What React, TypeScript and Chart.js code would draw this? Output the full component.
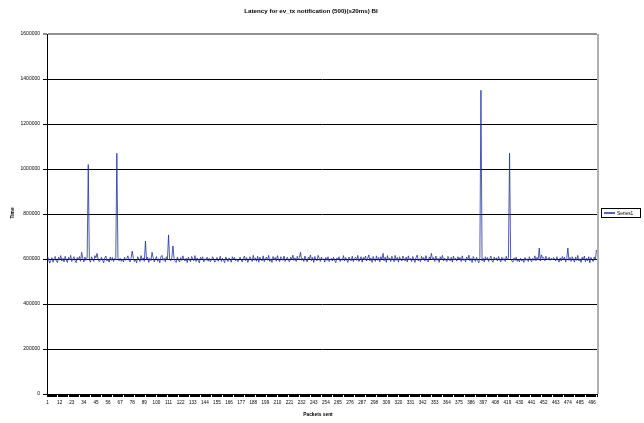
import React, { useEffect, useRef } from 'react';
import { Chart, registerables } from 'chart.js';

Chart.register(...registerables);

const TITLE = 'Latency for ev_tx notification (500)(s20ms) BI';
const X_TITLE = 'Packets sent';
const Y_TITLE = 'Time';
const SERIES_NAME = 'Series1';

const categories: string[] = Array.from({ length: 500 }, (_, i) => String(i + 1));
const xLabelEvery = 11;

const yMin = 0;
const yMax = 1600000;
const yStep = 200000;

const series1: number[] = [
  612000, 596000, 582000, 594000, 606000, 586000, 601000, 611000, 590000, 584000, 608000, 597000, 615000, 591000, 603000, 587000, 612000, 595000, 585000, 607000, 596000, 616000, 589000, 601000, 610000,
  593000, 584000, 607000, 596000, 611000, 590000, 630000, 603000, 587000, 609000, 594000, 606000, 1020000, 596000, 586000, 610000, 598000, 589000, 615000, 605000, 625000, 599000, 588000, 596000, 608000,
  593000, 583000, 605000, 613000, 591000, 600000, 586000, 609000, 594000, 607000, 589000, 602000, 596000, 1070000, 605000, 592000, 603000, 590000, 600000, 587000, 608000, 594000, 601000, 614000, 596000,
  587000, 606000, 635000, 603000, 589000, 597000, 583000, 610000, 600000, 588000, 615000, 594000, 605000, 590000, 680000, 596000, 608000, 585000, 603000, 593000, 630000, 606000, 587000, 598000, 611000,
  590000, 601000, 583000, 609000, 616000, 594000, 603000, 588000, 610000, 597000, 707000, 596000, 592000, 606000, 658000, 603000, 589000, 585000, 609000, 596000, 587000, 606000, 594000, 614000, 600000,
  591000, 603000, 584000, 608000, 596000, 588000, 611000, 600000, 592000, 615000, 589000, 605000, 594000, 583000, 607000, 598000, 610000, 587000, 601000, 594000, 608000, 590000, 603000, 588000, 596000,
  610000, 600000, 586000, 594000, 607000, 590000, 598000, 612000, 589000, 603000, 594000, 584000, 609000, 600000, 589000, 605000, 596000, 586000, 610000, 598000, 607000, 592000, 601000, 588000, 595000,
  608000, 596000, 587000, 603000, 613000, 592000, 606000, 585000, 597000, 610000, 600000, 589000, 616000, 594000, 605000, 590000, 612000, 586000, 608000, 598000, 592000, 614000, 588000, 603000, 609000,
  594000, 616000, 589000, 601000, 585000, 611000, 596000, 607000, 590000, 615000, 598000, 588000, 610000, 603000, 594000, 613000, 589000, 601000, 608000, 592000, 587000, 609000, 597000, 617000, 594000,
  605000, 589000, 612000, 596000, 607000, 630000, 594000, 603000, 589000, 613000, 596000, 587000, 608000, 600000, 618000, 592000, 607000, 585000, 611000, 598000, 592000, 616000, 603000, 589000, 609000,
  596000, 601000, 586000, 607000, 594000, 610000, 588000, 598000, 603000, 591000, 608000, 594000, 584000, 605000, 596000, 610000, 589000, 601000, 594000, 615000, 591000, 607000, 596000, 585000, 609000,
  600000, 592000, 612000, 588000, 603000, 608000, 594000, 616000, 589000, 598000, 610000, 586000, 607000, 596000, 613000, 591000, 603000, 618000, 592000, 605000, 585000, 611000, 598000, 589000, 614000,
  594000, 607000, 587000, 610000, 598000, 625000, 592000, 608000, 585000, 615000, 596000, 605000, 589000, 612000, 600000, 588000, 616000, 594000, 607000, 586000, 610000, 598000, 591000, 613000, 603000,
  592000, 608000, 587000, 614000, 596000, 603000, 589000, 611000, 598000, 585000, 607000, 617000, 592000, 601000, 588000, 612000, 596000, 607000, 591000, 615000, 594000, 587000, 609000, 600000, 625000,
  596000, 607000, 589000, 613000, 594000, 603000, 585000, 610000, 598000, 616000, 591000, 605000, 596000, 588000, 611000, 600000, 592000, 608000, 586000, 613000, 596000, 603000, 591000, 610000, 598000,
  607000, 589000, 614000, 594000, 601000, 587000, 609000, 596000, 617000, 592000, 603000, 585000, 611000, 598000, 589000, 608000, 594000, 583000, 607000, 1350000, 592000, 603000, 587000, 610000, 596000,
  607000, 589000, 601000, 613000, 592000, 586000, 609000, 596000, 605000, 591000, 611000, 598000, 587000, 608000, 594000, 603000, 589000, 612000, 596000, 607000, 1070000, 601000, 592000, 586000, 605000,
  594000, 608000, 589000, 598000, 587000, 603000, 592000, 597000, 585000, 607000, 594000, 601000, 589000, 610000, 596000, 588000, 603000, 594000, 614000, 592000, 607000, 596000, 649000, 591000, 618000,
  603000, 607000, 592000, 612000, 600000, 597000, 608000, 594000, 603000, 596000, 607000, 600000, 592000, 610000, 596000, 586000, 605000, 591000, 611000, 598000, 608000, 587000, 601000, 649000, 594000,
  607000, 589000, 610000, 598000, 586000, 609000, 594000, 616000, 591000, 601000, 585000, 608000, 596000, 613000, 588000, 603000, 592000, 610000, 583000, 607000, 596000, 589000, 609000, 598000, 640000,
];

const FONT = '"Liberation Sans", Arial, sans-serif';
const LINE_COLOR = '#23309e';

export default function App() {
  const ref = useRef<HTMLCanvasElement>(null);

  useEffect(() => {
    document.body.style.margin = '0';
    const canvas = ref.current;
    if (!canvas) return;

    const deco = {
      id: 'deco',
      beforeDatasetsDraw(chart: any) {
        const { ctx, chartArea: a } = chart;
        ctx.save();
        ctx.strokeStyle = '#b0b0b0';
        ctx.lineWidth = 2;
        ctx.beginPath();
        ctx.moveTo(a.right + 1, a.top);
        ctx.lineTo(a.right + 1, a.bottom);
        ctx.stroke();
        ctx.restore();
      },
      afterDraw(chart: any) {
        const { ctx } = chart;
        ctx.save();
        ctx.fillStyle = '#000';
        ctx.textBaseline = 'middle';
        ctx.textAlign = 'center';
        ctx.font = `bold 6.2px ${FONT}`;
        ctx.fillText(TITLE, 311, 11);
        ctx.font = `bold 4.8px ${FONT}`;
        ctx.fillText(X_TITLE, 318, 415);
        ctx.save();
        ctx.translate(13, 213);
        ctx.rotate(-Math.PI / 2);
        ctx.fillText(Y_TITLE, 0, 0);
        ctx.restore();
        ctx.strokeStyle = '#000';
        ctx.lineWidth = 1;
        ctx.strokeRect(601.5, 208.5, 39, 9);
        ctx.strokeStyle = LINE_COLOR;
        ctx.lineWidth = 1.5;
        ctx.beginPath();
        ctx.moveTo(604, 213);
        ctx.lineTo(615, 213);
        ctx.stroke();
        ctx.textAlign = 'left';
        ctx.font = `4.8px ${FONT}`;
        ctx.fillText(SERIES_NAME, 617, 213.2);
        ctx.restore();
      },
    };

    const chart = new Chart(canvas, {
      type: 'line',
      data: {
        labels: categories,
        datasets: [
          {
            label: SERIES_NAME,
            data: series1,
            borderColor: LINE_COLOR,
            borderWidth: 0.8,
            pointRadius: 0,
            tension: 0,
            fill: false,
          },
        ],
      },
      options: {
        responsive: false,
        animation: false,
        devicePixelRatio: 1,
        layout: { padding: { left: 0, right: 47, top: 34, bottom: 0 } },
        plugins: {
          legend: { display: false },
          title: { display: false },
          tooltip: { enabled: false },
        },
        scales: {
          x: {
            type: 'category',
            offset: true,
            grid: {
              display: true,
              drawOnChartArea: false,
              drawTicks: true,
              tickLength: 3,
              color: '#000',
              offset: true,
            },
            border: { color: '#000', width: 1 },
            ticks: {
              autoSkip: false,
              maxRotation: 0,
              minRotation: 0,
              padding: 3,
              color: '#000',
              font: { family: FONT, size: 4.6 },
              callback: (_v: any, i: number) => (i % xLabelEvery === 0 ? categories[i] : ''),
            },
            afterFit: (s: any) => {
              s.height = 29;
            },
          },
          y: {
            min: yMin,
            max: yMax,
            ticks: {
              stepSize: yStep,
              padding: 3,
              color: '#000',
              font: { family: FONT, size: 5 },
              callback: (v: any) => String(v),
            },
            grid: {
              color: (c: any) => (c.tick && c.tick.value === yMax ? '#909090' : '#000'),
              lineWidth: (c: any) => (c.tick && c.tick.value === yMax ? 2 : 1),
              tickLength: 4,
            },
            border: { color: '#000', width: 1 },
            afterFit: (s: any) => {
              s.width = 47;
            },
          },
        },
      },
      plugins: [deco],
    } as any);

    return () => chart.destroy();
  }, []);

  return (
    <div style={{ position: 'absolute', left: 0, top: 0, width: 644, height: 423, background: '#fff' }}>
      <canvas ref={ref} width={644} height={423} style={{ width: 644, height: 423, display: 'block' }} />
    </div>
  );
}
